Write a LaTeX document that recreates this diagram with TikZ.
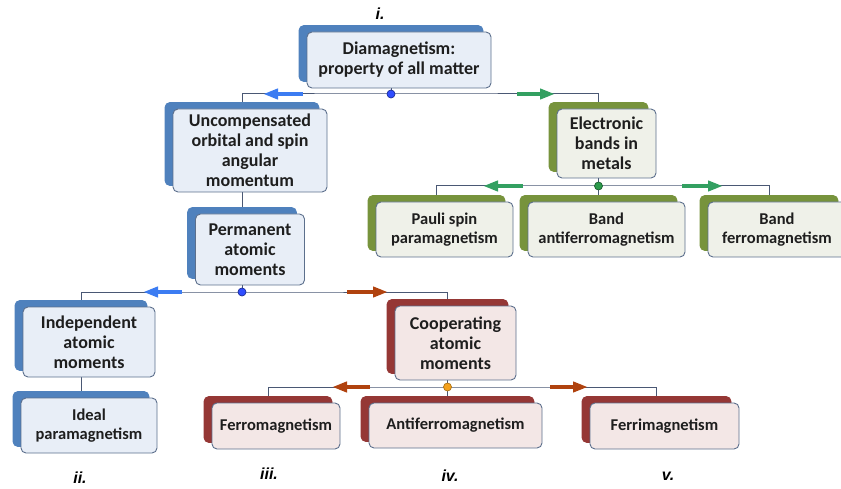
\documentclass[tikz,border=0pt]{standalone}
\usepackage{fontspec}
\setmainfont{Carlito}
\newfontfamily\tagfont{Liberation Sans}
\usetikzlibrary{arrows.meta,shadows,backgrounds}
\definecolor{blueback}{HTML}{4F81BD}
\definecolor{greenback}{HTML}{77933C}
\definecolor{redback}{HTML}{953735}
\definecolor{bluefill}{HTML}{E8EEF7}
\definecolor{greenfill}{HTML}{EFF1E9}
\definecolor{redfill}{HTML}{F3E7E6}
\definecolor{frameline}{HTML}{5C6F8C}
\definecolor{connline}{HTML}{4A5874}
\definecolor{arrblue}{HTML}{3C7CF2}
\definecolor{arrgreen}{HTML}{33A061}
\definecolor{arrred}{HTML}{B0420E}
\definecolor{dotblue}{HTML}{2F4DFF}
\definecolor{dotgreen}{HTML}{2C9A4B}
\definecolor{dotorange}{HTML}{F5A11C}
\definecolor{txt}{HTML}{1E1E1E}
\begin{document}
\begin{tikzpicture}[x=1pt, y=-1pt, inner sep=0pt, outer sep=0pt,
  card/.style={draw=frameline, line width=0.9pt, rounded corners=5pt, text=txt, align=center,
    font=\bfseries\fontsize{18}{20}\selectfont},
  leafcard/.style={card, font=\bfseries\fontsize{16.5}{19}\selectfont},
  bluecard/.style={fill=bluefill, copy shadow={shadow xshift=-8pt, shadow yshift=6.5pt, fill=blueback, draw=blueback}},
  greencard/.style={fill=greenfill, copy shadow={shadow xshift=-8pt, shadow yshift=6.5pt, fill=greenback, draw=greenback}},
  redcard/.style={fill=redfill, copy shadow={shadow xshift=-8pt, shadow yshift=6.5pt, fill=redback, draw=redback}},
  conn/.style={draw=connline, line width=1pt},
  flow/.style={line width=4pt, -{Triangle[length=15pt,width=10pt]}},
  dot/.style={circle, minimum size=8pt, line width=0.7pt},
  tag/.style={font=\tagfont\bfseries\itshape\fontsize{16}{16}\selectfont}]
\useasboundingbox (0,0) rectangle (841,489);
\node[card, bluecard, minimum width=184pt, minimum height=56pt] (dia) at (399,60) {Diamagnetism:\\property of all matter};
\node[card, bluecard, minimum width=154pt, minimum height=83pt] (unc) at (250,150.5) {Uncompensated\\orbital and spin\\angular\\momentum};
\node[card, greencard, minimum width=99pt, minimum height=69pt] (ele) at (606.5,143.5) {Electronic\\bands in\\metals};
\node[leafcard, greencard, minimum width=137pt, minimum height=55pt] (pau) at (444.5,229.5) {Pauli spin\\paramagnetism};
\node[leafcard, greencard, minimum width=157pt, minimum height=55pt] (baf) at (606.5,229.5) {Band\\antiferromagnetism};
\node[leafcard, greencard, minimum width=138pt, minimum height=55pt] (bfe) at (777,229.5) {Band\\ferromagnetism};
\node[card, bluecard, minimum width=109pt, minimum height=71pt] (per) at (250,249.5) {Permanent\\atomic\\moments};
\node[card, bluecard, minimum width=132pt, minimum height=70pt] (ind) at (89,342) {Independent\\atomic\\moments};
\node[card, redcard, minimum width=121pt, minimum height=74pt] (coo) at (455.5,343) {Cooperating\\atomic\\moments};
\node[leafcard, bluecard, minimum width=136pt, minimum height=55pt] (ide) at (89,425.5) {Ideal\\paramagnetism};
\node[leafcard, redcard, minimum width=128pt, minimum height=46pt] (fer) at (276,426) {Ferromagnetism};
\node[leafcard, redcard, minimum width=173pt, minimum height=45pt] (afe) at (455.5,425.5) {Antiferromagnetism};
\node[leafcard, redcard, minimum width=149pt, minimum height=46pt] (fri) at (664.5,426) {Ferrimagnetism};
\node[dot, fill=dotblue, draw=dotblue!60!black] (j1) at (391,94) {};
\node[dot, fill=dotgreen, draw=dotgreen!60!black] (j2) at (598.5,186) {};
\node[dot, fill=dotblue, draw=dotblue!60!black] (j3) at (242,292) {};
\node[dot, fill=dotorange, draw=dotorange!70!black] (j4) at (447.5,387) {};
\begin{scope}[on background layer]
  \draw[conn] ([xshift=-8pt]dia.south) -- (j1.center);
  \draw[conn] ([xshift=-8pt]unc.north) |- (j1.center) -| ([xshift=-8pt]ele.north);
  \draw[conn] ([xshift=-8pt]ele.south) -- (j2.center) -- ([xshift=-8pt]baf.north);
  \draw[conn] ([xshift=-8pt]pau.north) |- (j2.center) -| ([xshift=-8pt]bfe.north);
  \draw[conn] ([xshift=-8pt]unc.south) -- ([xshift=-8pt]per.north);
  \draw[conn] ([xshift=-8pt]per.south) -- (j3.center);
  \draw[conn] ([xshift=-8pt]ind.north) |- (j3.center) -| ([xshift=-8pt]coo.north);
  \draw[conn] ([xshift=-8pt]ind.south) -- ([xshift=-8pt]ide.north);
  \draw[conn] ([xshift=-8pt]coo.south) -- (j4.center) -- ([xshift=-8pt]afe.north);
  \draw[conn] ([xshift=-8pt]fer.north) |- (j4.center) -| ([xshift=-8pt]fri.north);
  \draw[flow, arrblue] (303,94) -- (263,94);
  \draw[flow, arrgreen] (517,94) -- (555,94);
  \draw[flow, arrgreen] (523,186) -- (483,186);
  \draw[flow, arrgreen] (682,186) -- (723,186);
  \draw[flow, arrblue] (182,292) -- (143,292);
  \draw[flow, arrred] (347,292) -- (388,292);
  \draw[flow, arrred] (370,387) -- (332,387);
  \draw[flow, arrred] (550,387) -- (588,387);
\end{scope}
\node[tag] (ti) at (380,14) {i.};
\node[tag] (tii) at (80,478) {ii.};
\node[tag] (tiii) at (269,474) {iii.};
\node[tag] (tiv) at (450,476) {iv.};
\node[tag] (tv) at (668,476) {v.};
\end{tikzpicture}
\end{document}
